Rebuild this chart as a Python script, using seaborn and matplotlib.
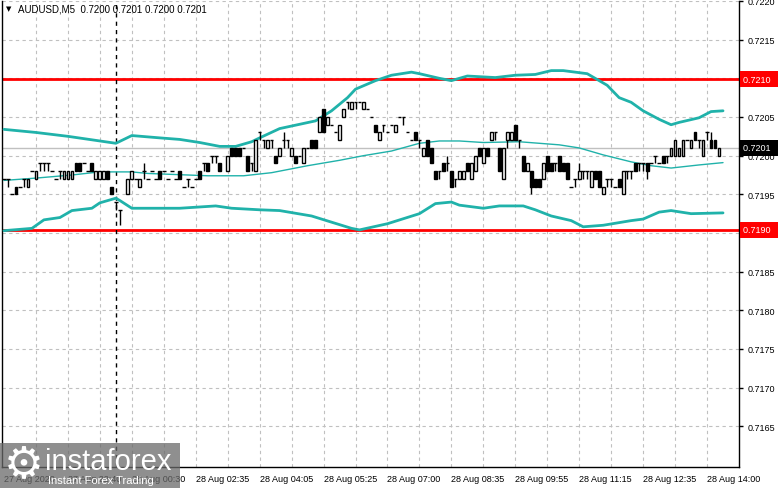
import numpy as np
import pandas as pd
import matplotlib
matplotlib.use("Agg")
import matplotlib.pyplot as plt
import seaborn as sns
from matplotlib.patches import Rectangle

BASE = 0.7200
PIP = 0.0001
nan = np.nan

# M5 candles, pips away from 0.7200 (nan = no bar)
opens = [-3, -3, -5, -4, -4, -3, -4, -2, -3, -1,
         -1, -1, -2, -3, -2, -3, -3, -3, -1, -1,
         -1, -2, -1, -3, -3, -3, -2, -4, -6, -7,
         nan, -5, -3, -3, -4, -2, -3, -2, -3, -2,
         -2, -3, -2, -3, -2, -4, -3, -4, -3, -2,
         -1, -1, 0, 0, -1, nan, -2, 1, 1, 1,
         1, 0, -1, -2, 3, 2, 1, 2, 0, 0,
         2, 2, 0, 0, 0, -1, 1, 2, 2, 3,
         6, 4, 4, 3, 2, 5, 7, 6, 7, 7,
         6, 6, 5, 4, 2, 4, 3, 4, 3, 5,
         5, 3, 2, 3, 2, 0, 2, 1, -2, -2,
         -1, -1, -2, -3, -3, -3, -1, -3, -2, 1,
         -1, 1, 2, 3, 1, -3, 2, 2, 4, 2,
         0, -2, -2, -3, -3, -3, 0, -1, -1, 0,
         -1, -1, -4, -3, -3, -2, -2, -4, -2, -2,
         -5, -3, -3, -4, -3, -5, -2, -2, -1, -1,
         -1, -1, -1, 0, -1, 0, 0, 0, 0, 0,
         0, 2, 1, 3, 2, 0, 3, 2, 2, 0]
highs = [-3, -3, -5, -4, -4, -3, -3, -2, -2, -1,
         -1, -1, -2, -3, -2, -2, -2, -2, -1, -1,
         -1, -2, -1, -2, -2, -2, -2, -4, -6, -7,
         nan, -3, -2, -3, -3, -1, -3, -2, -3, -2,
         -2, -3, -2, -3, -2, -4, -3, -4, -3, -2,
         -1, -1, 0, 0, -1, nan, 0, 1, 1, 1,
         1, 0, -1, 2, 3, 2, 2, 2, 0, 1,
         3, 2, 1, 0, 0, 1, 1, 2, 2, 5,
         6, 5, 4, 3, 4, 6, 7, 7, 7, 7,
         7, 6, 5, 4, 3, 4, 3, 4, 4, 5,
         5, 3, 2, 3, 2, 1, 2, 1, -2, -2,
         -1, 0, -2, -3, -2, -2, -1, -1, 0, 1,
         1, 1, 3, 3, 1, 1, 3, 3, 4, 2,
         0, -1, -2, -3, -3, -1, 0, -1, -1, 0,
         -1, -1, -4, -3, -1, -2, -2, -2, -2, -2,
         -4, -3, -3, -4, -3, -2, -2, -2, -1, -1,
         -1, -1, -1, 0, -1, 0, 0, 1, 2, 1,
         2, 2, 2, 3, 2, 2, 3, 3, 2, 1]
lows = [-3, -4, -5, -5, -4, -4, -4, -2, -3, -2,
        -2, -2, -2, -3, -3, -3, -3, -3, -2, -2,
        -1, -2, -2, -3, -3, -3, -3, -5, -7, -9,
        nan, -5, -3, -3, -4, -3, -3, -2, -3, -3,
        -2, -3, -2, -3, -3, -4, -4, -4, -3, -3,
        -2, -2, -1, -1, -2, nan, -2, 0, 0, 0,
        1, -2, -2, -2, 2, 1, 1, 1, -1, 0,
        1, 1, 0, -1, 0, -1, 1, 1, 1, 3,
        3, 4, 4, 3, 2, 5, 6, 6, 6, 7,
        6, 6, 5, 3, 2, 3, 3, 4, 3, 5,
        4, 3, 2, 2, 1, 0, 0, -1, -3, -3,
        -2, -2, -4, -4, -3, -3, -2, -3, -2, 0,
        -1, 0, 2, 2, -2, -3, 1, 2, 2, 1,
        -2, -2, -5, -4, -4, -3, -2, -2, -2, -2,
        -2, -3, -4, -4, -3, -3, -3, -4, -3, -4,
        -5, -4, -4, -4, -4, -5, -3, -3, -2, -2,
        -2, -3, -1, -1, -1, -1, -1, 0, 0, 0,
        0, 2, 1, 2, 1, 0, 2, 1, 1, 0]
closes = [-3, -3, -5, -5, -4, -3, -3, -2, -2, -1,
          -1, -1, -2, -3, -2, -2, -2, -2, -2, -2,
          -1, -2, -2, -2, -2, -2, -3, -5, -6, -7,
          nan, -3, -2, -3, -3, -2, -3, -2, -3, -3,
          -2, -3, -2, -3, -3, -4, -3, -4, -3, -3,
          -1, -2, 0, 0, -2, nan, 0, 0, 0, 0,
          1, -2, -1, 2, 3, 2, 2, 2, -1, 1,
          2, 2, 1, -1, 0, 1, 1, 1, 1, 5,
          3, 5, 4, 3, 4, 6, 7, 7, 7, 7,
          7, 6, 5, 3, 3, 4, 3, 4, 4, 5,
          5, 3, 2, 2, 2, 1, 0, -1, -3, -2,
          -2, -1, -4, -3, -2, -2, -2, -1, 0, 0,
          1, 0, 3, 3, -2, 1, 3, 3, 2, 2,
          -2, -1, -4, -4, -4, -1, -2, -2, -1, -2,
          -2, -3, -4, -3, -2, -2, -2, -2, -3, -4,
          -4, -3, -3, -4, -4, -2, -2, -2, -2, -1,
          -1, -2, -1, 0, -1, -1, 0, 1, 2, 1,
          2, 2, 2, 2, 2, 2, 3, 1, 1, 1]

# Bollinger bands (bar index, pips)
upper_idx = [0, 8, 16, 24, 28, 32, 39, 44, 49, 54, 58, 62, 64, 69, 78, 82, 86, 88, 93, 97,
             102, 104, 109, 112, 116, 123, 128, 133, 137, 140, 143, 146, 148, 151, 154,
             157, 160, 164, 167, 169, 174, 177, 180]
upper_pips = [3.4, 3.0, 2.5, 1.9, 1.6, 2.6, 2.3, 2.1, 1.7, 1.2, 1.2, 1.8, 2.3, 3.5, 4.5, 5.8,
              7.5, 8.6, 9.7, 10.4, 10.8, 10.6, 10.0, 9.7, 10.3, 10.1, 10.4, 10.5, 11.0, 11.0,
              10.8, 10.6, 10.0, 9.1, 7.5, 6.9, 5.8, 4.7, 4.0, 4.3, 4.9, 5.7, 5.8]
middle_idx = [0, 8, 17, 24, 32, 36, 46, 51, 60, 67, 76, 84, 90, 97, 104, 109, 114, 120, 129,
              139, 144, 150, 157, 162, 167, 174, 180]
middle_pips = [-3.2, -2.9, -2.5, -2.1, -2.1, -2.3, -2.5, -2.6, -2.6, -2.2, -1.3, -0.6, 0.0,
               0.6, 1.6, 1.9, 1.9, 1.7, 1.8, 1.4, 1.0, 0.1, -0.8, -1.3, -1.6, -1.2, -0.9]
lower_idx = [0, 7, 10, 14, 17, 22, 24, 28, 29, 32, 44, 53, 57, 64, 69, 77, 82, 87, 89, 96,
             104, 108, 112, 114, 120, 124, 130, 133, 137, 142, 145, 150, 157, 160, 164,
             167, 172, 180]
lower_pips = [-9.7, -9.4, -8.3, -8.0, -7.1, -6.8, -6.1, -5.5, -5.8, -6.8, -6.8, -6.5, -6.8,
              -7.0, -7.1, -7.8, -8.6, -9.4, -9.6, -8.8, -7.5, -6.2, -6.0, -6.4, -6.8, -6.5,
              -6.5, -7.0, -7.8, -8.4, -9.2, -9.0, -8.4, -8.2, -7.3, -7.1, -7.5, -7.4]

time_idx = [0, 16, 32, 48, 64, 80, 96, 112, 128, 144, 160, 176]
time_labels = ["27 Aug 2020", "27 Aug 22:40", "28 Aug 00:30", "28 Aug 02:35", "28 Aug 04:05",
               "28 Aug 05:25", "28 Aug 07:00", "28 Aug 08:35", "28 Aug 09:55", "28 Aug 11:15",
               "28 Aug 12:35", "28 Aug 14:00"]
price_ticks = [0.7165, 0.7170, 0.7175, 0.7180, 0.7185, 0.7190, 0.7195, 0.7200,
               0.7205, 0.7210, 0.7215, 0.7220]
levels = [0.72099, 0.71904]
level_labels = ["0.7210", "0.7190"]
bid = 0.7201
cursor_bar = 28
title = "AUDUSD,M5  0.7200 0.7201 0.7200 0.7201"

candles = pd.DataFrame({"o": opens, "h": highs, "l": lows, "c": closes}) * PIP + BASE
candles["i"] = np.arange(len(candles))
candles = candles.dropna()

sns.set_style("white")
plt.rcParams["font.family"] = ["Liberation Sans", "DejaVu Sans"]

fig = plt.figure(figsize=(7.81, 4.89), dpi=100)
ax = fig.add_axes([2 / 781, 1 - 468 / 489, 737 / 781, 466 / 489])
ax.set_xlim(-0.5, 184)
ax.set_ylim(0.715974, 0.720203)

band_col = "#20b2aa"
grid_kw = dict(color="#c0c0c0", lw=0.8, ls=(0, (3, 3)), zorder=0)
for x in range(8, 184, 8):
    ax.axvline(x, **grid_kw)
for y in price_ticks:
    ax.axhline(y, **grid_kw)

ax.axhline(bid, color="#c0c0c0", lw=1, zorder=1)
for lv in levels:
    ax.axhline(lv, color="#ff0000", lw=2, zorder=2)
ax.axvline(cursor_bar, color="black", lw=1, ls=(0, (3, 3)), zorder=2)

sns.lineplot(x=upper_idx, y=np.array(upper_pips) * PIP + BASE, ax=ax, color=band_col, lw=2, zorder=3)
sns.lineplot(x=lower_idx, y=np.array(lower_pips) * PIP + BASE, ax=ax, color=band_col, lw=2, zorder=3)
sns.lineplot(x=middle_idx, y=np.array(middle_pips) * PIP + BASE, ax=ax, color=band_col, lw=1, zorder=3)

# candles
ax.vlines(candles["i"], candles["l"], candles["h"], color="black", lw=1, zorder=4)
up = candles[candles["c"] > candles["o"]]
dn = candles[candles["c"] < candles["o"]]
dj = candles[candles["c"] == candles["o"]]
ax.bar(up["i"], up["c"] - up["o"], bottom=up["o"], width=0.7, color="white",
       edgecolor="black", lw=1, zorder=5)
ax.bar(dn["i"], dn["o"] - dn["c"], bottom=dn["c"], width=0.7, color="black",
       edgecolor="black", lw=1, zorder=5)
ax.hlines(dj["o"], dj["i"] - 0.45, dj["i"] + 0.45, color="black", lw=1, zorder=5)

ax.spines["top"].set_visible(False)
for side in ["left", "right", "bottom"]:
    ax.spines[side].set_color("black")
    ax.spines[side].set_linewidth(1)

ax.yaxis.tick_right()
ax.set_yticks(price_ticks)
ax.set_yticklabels([f"{p:.4f}" for p in price_ticks])
ax.set_xticks(time_idx)
ax.set_xticklabels(time_labels, ha="left")
ax.tick_params(axis="both", which="major", direction="out", length=3, width=1,
               colors="black", labelsize=6.5, pad=2)
ax.tick_params(axis="y", pad=3)
ax.set_xlabel("")
ax.set_ylabel("")

box = dict(boxstyle="square,pad=0.35", lw=0)
for lv, txt in zip(levels, level_labels):
    ax.text(1.005, lv, txt + "  ", transform=ax.get_yaxis_transform(), va="center",
            ha="left", fontsize=6.5, color="white", bbox=dict(box, fc="#ff0000"),
            clip_on=False, zorder=10)
ax.text(1.005, bid, f"{bid:.4f}" + "  ", transform=ax.get_yaxis_transform(),
        va="center", ha="left", fontsize=6.5, color="white", bbox=dict(box, fc="black"),
        clip_on=False, zorder=10)

fig.text(6 / 781, 1 - 9 / 489, "\u25bc", fontsize=5, va="center", ha="left",
         family="DejaVu Sans", color="black")
fig.text(18 / 781, 1 - 9 / 489, title, fontsize=7, va="center", ha="left", color="black")

# watermark
fig.patches.append(Rectangle((0, 0), 180 / 781, 45 / 489, transform=fig.transFigure,
                             facecolor="#6a6a6a", alpha=0.75, lw=0, zorder=20))
fig.text(24 / 781, 1 - 465 / 489, "\u2699", fontsize=32, color="white", ha="center",
         va="center", family="DejaVu Sans", zorder=21)
fig.text(45 / 781, 1 - 462 / 489, "instaforex", fontsize=21, color="white", ha="left",
         va="center", family="Liberation Sans", zorder=21)
fig.text(48 / 781, 1 - 481 / 489, "Instant Forex Trading", fontsize=8, color="white",
         ha="left", va="center", family="Liberation Sans", zorder=21)

fig.savefig("out.png", dpi=100)
